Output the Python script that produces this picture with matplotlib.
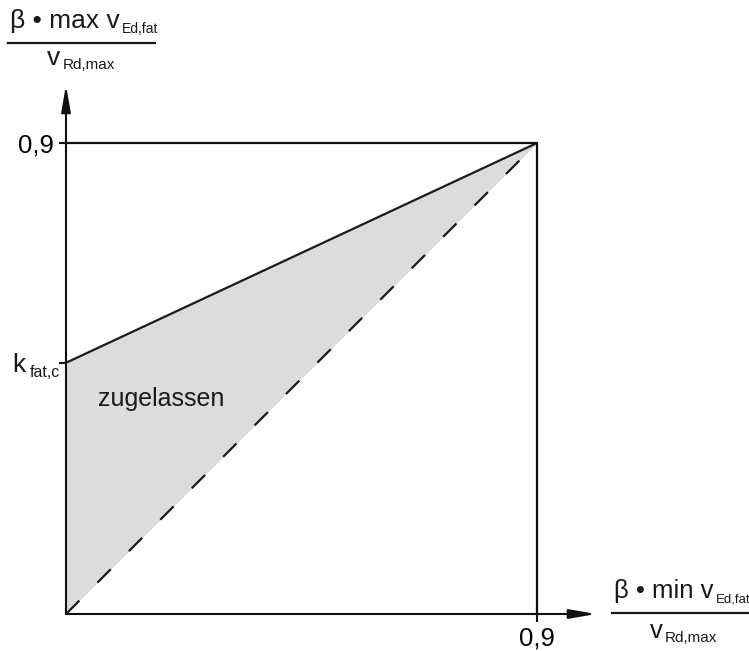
import matplotlib
matplotlib.use("Agg")
import matplotlib.pyplot as plt
from matplotlib.transforms import IdentityTransform
from matplotlib.lines import Line2D

plt.rcParams['font.family'] = ['Liberation Sans', 'DejaVu Sans']

# werte
axis_max = 0.9
k_fat_c = 0.48
grenze_x = [0.0, 0.9]
grenze_oben = [k_fat_c, 0.9]   # obere grenze (durchgezogen)
grenze_unten = [0.0, 0.9]      # min = max (gestrichelt)
ytick_werte = [k_fat_c, 0.9]
ytick_texte = ["", "0,9"]
xtick_werte = [0.9]
xtick_texte = ["0,9"]

W, H = 749, 651
fig = plt.figure(figsize=(W / 100, H / 100), dpi=100)
ax = fig.add_axes([0, 0, 1, 1])

# pixel -> daten: ursprung bei (66, 614), 0,9 = 471 px
s = 0.9 / 471
ax.set_xlim(-66 * s, (W - 66) * s)
ax.set_ylim(-(H - 614) * s, 614 * s)

for sp in ax.spines.values():
    sp.set_visible(False)
ax.spines['left'].set_position(('data', 0))
ax.spines['bottom'].set_position(('data', 0))

ax.fill_between(grenze_x, grenze_unten, grenze_oben, color='#dcdcdc', lw=0)
ax.plot(grenze_x, grenze_oben, color='#1a1a1a', lw=1.6, solid_capstyle='butt')
ax.plot(grenze_x, grenze_unten, color='#1a1a1a', lw=1.6, linestyle=(0, (8.5, 11.5)))
# rahmen bei 0,9
ax.plot([0, axis_max, axis_max], [axis_max, axis_max, 0], color='#111111', lw=1.6,
        solid_joinstyle='miter')

# achsen mit pfeil
pf = dict(arrowstyle='-|>,head_length=1.6,head_width=0.28', lw=1.5, color='#111111',
          mutation_scale=10, shrinkA=0, shrinkB=0)
ax.annotate('', xy=(0, (614 - 85) * s), xytext=(0, 0), arrowprops=pf)
ax.annotate('', xy=((596 - 66) * s, 0), xytext=(0, 0), arrowprops=pf)

ax.set_yticks(ytick_werte)
ax.set_yticklabels(ytick_texte, fontsize=18.5)
ax.set_xticks(xtick_werte)
ax.set_xticklabels(xtick_texte, fontsize=18.5)
ax.tick_params(axis='y', direction='out', length=5, width=1.5, pad=4, color='#111111')
ax.tick_params(axis='x', direction='out', length=6, width=1.5, pad=3, color='#111111')

ax.text((98 - 66) * s, (614 - 406) * s, "zugelassen", fontsize=18, color='#1a1a1a',
        va='baseline', ha='left')

renderer = fig.canvas.get_renderer()
T = IdentityTransform()


def mit_index(x, y, haupt, index, gr=19, kl=10, tief=5, luecke=2):
    t = fig.text(x, H - y, haupt, fontsize=gr, transform=T, va='baseline', ha='left',
                 color='#1a1a1a')
    bb = t.get_window_extent(renderer)
    fig.text(bb.x1 + luecke, H - y - tief, index, fontsize=kl, transform=T, va='baseline',
             ha='left', color='#1a1a1a')


def bruch(x_z, y_z, haupt, x_n, y_n, y_l, l0, l1, gr=19, kl=10):
    mit_index(x_z, y_z, haupt, "Ed,fat", gr=gr, kl=kl)
    fig.add_artist(Line2D([l0, l1], [H - y_l, H - y_l], transform=T, color='#1a1a1a', lw=1.6))
    mit_index(x_n, y_n, "v", "Rd,max", gr=gr, kl=11, tief=4)


bruch(10, 28, "β • max v", 47, 65, 43, 8, 155)
bruch(614, 598, "β • min v", 650, 638, 613, 612, W, gr=18.5, kl=9.5)

# k_fat,c an der y-achse
mit_index(12, 372, "k", "fat,c", gr=19, kl=11.5, tief=5, luecke=4)

fig.savefig("out.png", dpi=100)
